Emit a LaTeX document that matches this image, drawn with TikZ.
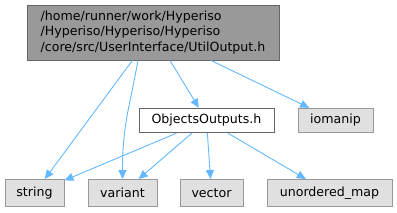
\documentclass[tikz,border=0pt]{standalone}
\usepackage{fontspec}
\setmainfont{DejaVu Sans}
\usepackage{tikz}
\usetikzlibrary{arrows.meta,positioning,calc}

\definecolor{edgeblue}{HTML}{63B8FF}
\definecolor{sysfill}{HTML}{E0E0E0}
\definecolor{sysdraw}{HTML}{999999}
\definecolor{mainfill}{HTML}{999999}
\definecolor{maindraw}{HTML}{666666}

\begin{document}
\begin{tikzpicture}[x=1pt,y=-1pt,
    font=\fontsize{12.6}{15.5}\selectfont,
    hdr/.style={draw=sysdraw,fill=sysfill,line width=0.9pt,inner sep=0pt,
        minimum height=27pt},
    dep/.style={draw=edgeblue,line width=0.9pt,
        -{Triangle[length=9pt,width=8pt]}}]
        \useasboundingbox (0,0) rectangle (397,212);
        % the file itself
        \node[draw=maindraw,fill=mainfill,line width=0.9pt,inner sep=0pt,
            minimum width=252pt,minimum height=55pt,align=left] (util) at (153,32.5)
            {/home/runner/work/Hyperiso\\/Hyperiso/Hyperiso/Hyperiso\\/core/src/UserInterface/UtilOutput.h};
        \node[draw=maindraw,fill=white,line width=0.9pt,inner sep=0pt,
            minimum width=135pt,minimum height=24.5pt] (objout) at (206.5,120.5) {ObjectsOutputs.h};
        \node[hdr,minimum width=75pt,minimum height=24.5pt] (iomanip) at (335.5,120.5) {iomanip};
        % system headers
        \node[hdr,minimum width=59pt] (string) at (34.5,193) {string};
        \node[hdr,minimum width=69pt] (variant) at (122.5,193) {variant};
        \node[hdr,minimum width=63pt] (vector) at (211.5,193) {vector};
        \node[hdr,minimum width=125pt] (umap) at (329.5,193) {unordered\_map};
        % includes
        \draw[dep] (util) -- (string);
        \draw[dep] ([xshift=-15pt]util.south) .. controls +(-8,45) and +(0,-55) .. (variant.north);
        \draw[dep] (util) -- (objout);
        \draw[dep] (util) -- (iomanip);
        \draw[dep] (objout) -- (string);
        \draw[dep] (objout) -- (variant);
        \draw[dep] (objout) -- (vector);
        \draw[dep] (objout) -- (umap);
\end{tikzpicture}
\end{document}
